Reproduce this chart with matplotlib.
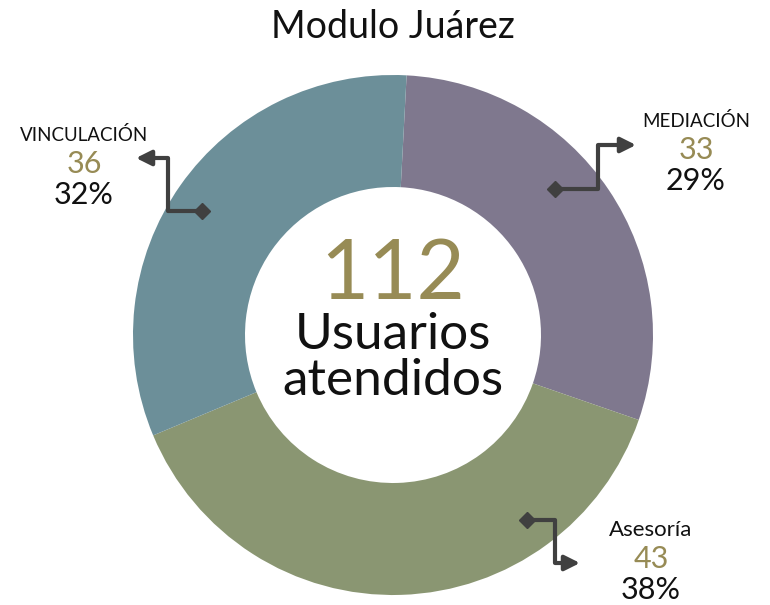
import matplotlib
matplotlib.use("Agg")
import matplotlib.pyplot as plt

categories = ["MEDIACIÓN", "Asesoría", "VINCULACIÓN"]
values = [33, 43, 36]
colors = ["#7f788e", "#8a9672", "#6c8f99"]
title = "Modulo Juárez"
total_label = "Usuarios\natendidos"

W, H = 770, 605
plt.rcParams['font.family'] = ['Lato', 'DejaVu Sans']

fig = plt.figure(figsize=(W / 100, H / 100), dpi=100)
ax = fig.add_axes([0, 0, 1, 1])

def Y(y):
    return H - y

cx, cy, r_out = 393, 335, 260
ax.pie(values, colors=colors, startangle=87, counterclock=False,
       center=(cx, Y(cy)), radius=r_out, frame=True,
       wedgeprops=dict(width=112, edgecolor='none'))
ax.set_xlim(0, W)
ax.set_ylim(0, H)
ax.set_aspect('equal')
ax.axis('off')

total = sum(values)
olive = "#978b55"
ax.text(cx, Y(27), title, ha='center', va='center', fontsize=27, color='#111111')
ax.text(cx, Y(276), str(total), ha='center', va='center', fontsize=60, color=olive)
ax.text(cx, Y(358), total_label, ha='center', va='center', fontsize=37,
        color='#111111', linespacing=0.98)

# elbow connectors: start (diamond), corner points, arrow end
connectors = [
    [(555, 189), (598, 189), (598, 145), (636, 145)],
    [(527, 520), (555, 520), (555, 563), (580, 563)],
    [(202, 211), (168, 211), (168, 158), (136, 158)],
]
label_pos = [(696, 121), (651, 530), (84, 135)]
name_sizes = [13.5, 16, 13.5]

line_col = "#404040"
for pts, (lx, ly), name, v, fs in zip(connectors, label_pos, categories, values, name_sizes):
    xs = [p[0] for p in pts[:-1]]
    ys = [Y(p[1]) for p in pts[:-1]]
    ax.plot(xs, ys, color=line_col, lw=3, solid_capstyle='butt', zorder=5)
    ax.plot(xs[0], ys[0], marker='D', color=line_col, markersize=8, zorder=6)
    ax.annotate('', xy=(pts[-1][0], Y(pts[-1][1])), xytext=(pts[-2][0], Y(pts[-2][1])),
                arrowprops=dict(arrowstyle='-|>,head_length=0.9,head_width=0.45',
                                color=line_col, lw=3, shrinkA=0, shrinkB=0), zorder=6)
    ax.text(lx, Y(ly), name, ha='center', va='center', fontsize=fs, color='#111111')
    ax.text(lx, Y(ly + 29), str(v), ha='center', va='center', fontsize=22, color=olive)
    ax.text(lx, Y(ly + 60), f"{round(100 * v / total)}%", ha='center', va='center',
            fontsize=22, color='#111111')

fig.savefig("out.png", dpi=100)
